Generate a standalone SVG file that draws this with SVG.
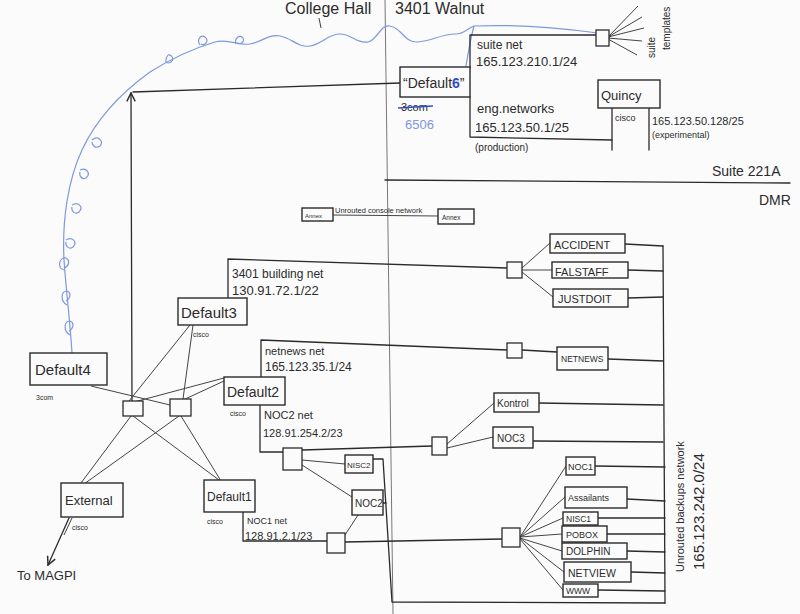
<svg xmlns="http://www.w3.org/2000/svg" width="800" height="614" viewBox="0 0 800 614">
<defs>
<style>
.ln{stroke:#2b2b2b;stroke-width:1.3;fill:none;stroke-linecap:round;stroke-linejoin:round}
.fl{stroke:#444;stroke-width:1;fill:none}
.bx{stroke:#2b2b2b;stroke-width:1.4;fill:#fbfbfb}
.sw{stroke:#2b2b2b;stroke-width:1.3;fill:#fbfbfb}
.t{font-family:"Liberation Sans","DejaVu Sans",sans-serif;fill:#2b2b2b}
.bl{stroke:#7d98dc;stroke-width:1.2;fill:none}
.div{stroke:#777;stroke-width:1;fill:none}
</style>
<marker id="ah" viewBox="0 0 10 10" refX="9" refY="5" markerWidth="8" markerHeight="8" orient="auto-start-reverse">
<path d="M1,1 L9,5 L1,9" fill="none" stroke="#2b2b2b" stroke-width="1.4"/>
</marker>
</defs>
<rect width="800" height="614" fill="#fbfbfb"/>

<g id="labels">
<text class="t" x="285" y="14" font-size="16">College Hall</text>
<line class="fl" x1="319" y1="18" x2="321" y2="28"/>
<text class="t" x="395" y="14" font-size="16">3401 Walnut</text>
<line class="div" x1="385" y1="0" x2="393" y2="614"/>
<line class="ln" x1="385" y1="180" x2="790" y2="183"/>
<text class="t" x="712" y="176" font-size="14">Suite 221A</text>
<text class="t" x="759" y="205" font-size="14">DMR</text>
<text class="t" x="0" y="0" font-size="10" transform="translate(655,58) rotate(-90)">suite</text>
<text class="t" x="0" y="0" font-size="10" transform="translate(670,50) rotate(-90)">templates</text>
<text class="t" x="0" y="0" font-size="11" transform="translate(684,572) rotate(-90)">Unrouted backups network</text>
<text class="t" x="0" y="0" font-size="15" transform="translate(704,570) rotate(-90)">165.123.242.0/24</text>
</g>

<g id="blue-cable">
<path class="bl" d="M72,353 C70,320 66,290 64,260 C62,220 68,180 82,150 C96,120 118,95 150,72 C172,58 195,48 215,42 C228,38 238,46 250,44 C262,42 268,34 280,36 C292,38 298,48 310,46 C322,44 328,34 340,34 C352,34 356,44 368,42 C378,40 380,24 390,26 C402,28 404,42 416,42 C430,42 440,34 456,34 C464,34 468,28 474,26 C520,24 560,28 598,33"/>
<path class="bl" d="M474,26 C470,40 468,55 466,66 C465,72 464,76 463,80"/>
<path class="bl" d="M70,335 c-7,-4 -6,-14 0,-14 c5,2 3,8 -1,10 M67,305 c-7,-4 -6,-14 0,-14 c5,2 3,8 -1,10 M64,270 c-7,-2 -5,-13 2,-12 c5,3 2,9 -2,10 M66,240 c6,-4 12,2 7,7 c-4,3 -8,-1 -7,-5 M72,205 c6,-4 12,2 7,7 c-4,3 -8,-1 -7,-5 M80,170 c7,-3 11,4 6,8 c-4,2 -7,-2 -6,-6 M92,140 c6,-5 12,1 8,6 c-4,3 -8,0 -8,-4 M168,55 c-4,6 -2,10 3,7 c4,-3 0,-8 -3,-7 M200,45 c-4,-6 2,-12 6,-7 c3,4 -2,8 -5,6 M236,44 c-2,-6 4,-10 7,-6 c2,4 -3,7 -6,5"/>
</g>

<g id="connectors">
<line class="ln" x1="133" y1="92" x2="400" y2="83"/>
<line class="ln" x1="132" y1="402" x2="131" y2="93" marker-end="url(#ah)"/>
<polyline class="ln" points="470,68 470,35 596,35"/>
<line class="fl" x1="608" y1="37" x2="638" y2="6"/>
<line class="fl" x1="608" y1="37" x2="642" y2="17"/>
<line class="fl" x1="608" y1="37" x2="644" y2="28"/>
<line class="fl" x1="608" y1="38" x2="642" y2="41"/>
<line class="fl" x1="608" y1="39" x2="637" y2="55"/>
<polyline class="ln" points="470,97 470,137 612,140"/>
<line class="ln" x1="612" y1="108" x2="612" y2="150"/>
<line class="ln" x1="649" y1="108" x2="649" y2="150"/>
<line class="fl" x1="333" y1="215" x2="438" y2="216"/>
<polyline class="ln" points="228,298 228,259 507,268"/>
<line class="fl" x1="522" y1="268" x2="550" y2="243"/>
<line class="fl" x1="522" y1="270" x2="552" y2="270"/>
<line class="fl" x1="522" y1="272" x2="553" y2="297"/>
<line class="ln" x1="625" y1="244" x2="663" y2="246"/>
<line class="ln" x1="628" y1="270" x2="663" y2="271"/>
<line class="ln" x1="628" y1="298" x2="663" y2="297"/>
<polyline class="ln" points="261,377 261,340 507,350"/>
<line class="ln" x1="522" y1="350" x2="557" y2="352"/>
<line class="ln" x1="608" y1="359" x2="663" y2="361"/>
<polyline class="ln" points="260,405 260,452 283,452"/>
<line class="ln" x1="302" y1="450" x2="432" y2="446"/>
<line class="fl" x1="447" y1="444" x2="494" y2="403"/>
<line class="fl" x1="447" y1="448" x2="493" y2="437"/>
<line class="ln" x1="539" y1="403" x2="663" y2="405"/>
<line class="ln" x1="533" y1="441" x2="663" y2="442"/>
<line class="fl" x1="302" y1="460" x2="345" y2="464"/>
<line class="fl" x1="302" y1="465" x2="352" y2="497"/>
<polyline class="ln" points="373,459 383,459 392,602 665,603"/>
<line class="ln" x1="383" y1="503" x2="386" y2="503"/>
<line class="fl" x1="358" y1="515" x2="345" y2="535"/>
<polyline class="ln" points="243,512 243,541 327,541"/>
<line class="ln" x1="345" y1="542" x2="502" y2="539"/>
<line class="fl" x1="520" y1="537" x2="566" y2="466"/>
<line class="fl" x1="520" y1="537" x2="565" y2="497"/>
<line class="fl" x1="520" y1="537" x2="563" y2="518"/>
<line class="fl" x1="520" y1="537" x2="562" y2="534"/>
<line class="fl" x1="520" y1="538" x2="562" y2="551"/>
<line class="fl" x1="520" y1="538" x2="564" y2="572"/>
<line class="fl" x1="520" y1="539" x2="563" y2="590"/>
<line class="ln" x1="595" y1="466" x2="665" y2="467"/>
<line class="ln" x1="627" y1="499" x2="665" y2="501"/>
<line class="ln" x1="598" y1="518" x2="665" y2="518"/>
<line class="ln" x1="607" y1="534" x2="665" y2="534"/>
<line class="ln" x1="627" y1="551" x2="665" y2="552"/>
<line class="ln" x1="631" y1="572" x2="665" y2="573"/>
<line class="ln" x1="598" y1="590" x2="665" y2="591"/>
<line class="ln" x1="663" y1="246" x2="665" y2="603"/>
<line class="fl" x1="91" y1="386" x2="170" y2="405"/>
<line class="fl" x1="224" y1="378" x2="134" y2="402"/>
<line class="fl" x1="224" y1="381" x2="183" y2="400"/>
<line class="fl" x1="190" y1="325" x2="129" y2="401"/>
<line class="fl" x1="193" y1="325" x2="183" y2="399"/>
<line class="fl" x1="131" y1="416" x2="81" y2="483"/>
<line class="fl" x1="133" y1="416" x2="219" y2="480"/>
<line class="fl" x1="179" y1="416" x2="84" y2="484"/>
<line class="fl" x1="181" y1="416" x2="221" y2="481"/>
<line class="ln" x1="69" y1="518" x2="48" y2="565" marker-end="url(#ah)"/>
<line class="fl" x1="72" y1="518" x2="64" y2="535"/>
</g>

<g id="switches">
<rect class="sw" x="596" y="30" width="13" height="16"/>
<rect class="sw" x="507" y="262" width="15" height="16"/>
<rect class="sw" x="507" y="343" width="15" height="15"/>
<rect class="sw" x="283" y="448" width="19" height="22"/>
<rect class="sw" x="432" y="437" width="15" height="18"/>
<rect class="sw" x="327" y="533" width="18" height="20"/>
<rect class="sw" x="502" y="528" width="18" height="19"/>
<rect class="sw" x="123" y="401" width="20" height="15"/>
<rect class="sw" x="170" y="399" width="21" height="17"/>
</g>

<g id="default5">
<rect class="bx" x="400" y="67" width="70" height="30"/>
<text class="t" x="403" y="88" font-size="14">“Default<tspan fill="#2d4fc8" font-weight="bold">6</tspan>”</text>
<text class="t" x="401" y="111" font-size="11">3com</text>
<line stroke="#2d4fc8" stroke-width="1.3" x1="398" y1="108" x2="433" y2="106"/>
<text class="t" x="405" y="129" font-size="13" style="fill:#7d98dc">6506</text>
</g>
<g id="suite-net">
<text class="t" x="477" y="49" font-size="12">suite net</text>
<text class="t" x="476" y="66" font-size="13">165.123.210.1/24</text>
</g>
<g id="eng-networks">
<text class="t" x="477" y="113" font-size="13">eng.networks</text>
<text class="t" x="475" y="132" font-size="13">165.123.50.1/25</text>
<text class="t" x="475" y="151" font-size="10">(production)</text>
</g>
<g id="quincy">
<rect class="bx" x="598" y="80" width="62" height="28"/>
<text class="t" x="601" y="100" font-size="13">Quincy</text>
<text class="t" x="615" y="121" font-size="9">cisco</text>
<text class="t" x="652" y="125" font-size="11">165.123.50.128/25</text>
<text class="t" x="652" y="138" font-size="9">(experimental)</text>
</g>
<g id="annex1">
<rect class="bx" x="302" y="208" width="31" height="13" stroke-width="1"/>
<text class="t" x="305" y="218" font-size="6">Annex</text>
</g>
<text class="t" x="335" y="213" font-size="7.5">Unrouted console network</text>
<g id="annex2">
<rect class="bx" x="438" y="209" width="36" height="15" stroke-width="1"/>
<text class="t" x="442" y="220" font-size="6.5">Annex</text>
</g>
<g id="building-net">
<text class="t" x="232" y="278" font-size="12">3401 building net</text>
<text class="t" x="232" y="295" font-size="13">130.91.72.1/22</text>
</g>
<g id="default3">
<rect class="bx" x="178" y="298" width="69" height="27"/>
<text class="t" x="181" y="318" font-size="15">Default3</text>
<text class="t" x="193" y="337" font-size="7">cisco</text>
</g>
<g id="accident"><rect class="bx" x="550" y="234" width="75" height="19"/><text class="t" x="554" y="249" font-size="11">ACCIDENT</text></g>
<g id="falstaff"><rect class="bx" x="552" y="262" width="76" height="16"/><text class="t" x="555" y="276" font-size="11">FALSTAFF</text></g>
<g id="justdoit"><rect class="bx" x="553" y="289" width="75" height="18"/><text class="t" x="558" y="303" font-size="11">JUSTDOIT</text></g>
<g id="netnews-net">
<text class="t" x="265" y="355" font-size="11">netnews net</text>
<text class="t" x="265" y="371" font-size="12">165.123.35.1/24</text>
</g>
<g id="netnews"><rect class="bx" x="557" y="347" width="51" height="23"/><text class="t" x="561" y="362" font-size="8.5">NETNEWS</text></g>
<g id="default2">
<rect class="bx" x="224" y="377" width="61" height="28"/>
<text class="t" x="227" y="397" font-size="14">Default2</text>
<text class="t" x="230" y="416" font-size="7">cisco</text>
</g>
<g id="noc2-net">
<text class="t" x="264" y="419" font-size="11">NOC2 net</text>
<text class="t" x="263" y="437" font-size="11">128.91.254.2/23</text>
</g>
<g id="kontrol"><rect class="bx" x="494" y="393" width="45" height="19"/><text class="t" x="497" y="407" font-size="10">Kontrol</text></g>
<g id="noc3"><rect class="bx" x="493" y="427" width="40" height="21"/><text class="t" x="497" y="442" font-size="10">NOC3</text></g>
<g id="nisc2"><rect class="bx" x="345" y="455" width="28" height="18"/><text class="t" x="347" y="468" font-size="8">NISC2</text></g>
<g id="noc2"><rect class="bx" x="352" y="490" width="31" height="25"/><text class="t" x="355" y="507" font-size="10">NOC2</text></g>
<g id="default4">
<rect class="bx" x="30" y="353" width="77" height="32"/>
<text class="t" x="35" y="375" font-size="15">Default4</text>
<text class="t" x="36" y="400" font-size="7">3com</text>
</g>
<g id="external">
<rect class="bx" x="61" y="483" width="62" height="34"/>
<text class="t" x="65" y="505" font-size="13">External</text>
<text class="t" x="72" y="530" font-size="7">cisco</text>
<text class="t" x="17" y="580" font-size="13">To MAGPI</text>
</g>
<g id="default1">
<rect class="bx" x="204" y="480" width="51" height="32"/>
<text class="t" x="207" y="501" font-size="12">Default1</text>
<text class="t" x="207" y="524" font-size="7">cisco</text>
</g>
<g id="noc1-net">
<text class="t" x="247" y="524" font-size="9">NOC1 net</text>
<text class="t" x="245" y="540" font-size="11">128.91.2.1/23</text>
</g>
<g id="noc1"><rect class="bx" x="566" y="457" width="29" height="18"/><text class="t" x="568" y="470" font-size="9">NOC1</text></g>
<g id="assailants"><rect class="bx" x="565" y="487" width="62" height="21"/><text class="t" x="568" y="501" font-size="9">Assailants</text></g>
<g id="nisc1"><rect class="bx" x="563" y="512" width="35" height="13"/><text class="t" x="566" y="522" font-size="8.5">NISC1</text></g>
<g id="pobox"><rect class="bx" x="562" y="526" width="45" height="16"/><text class="t" x="566" y="538" font-size="9">POBOX</text></g>
<g id="dolphin"><rect class="bx" x="562" y="543" width="65" height="16"/><text class="t" x="566" y="555" font-size="10">DOLPHIN</text></g>
<g id="netview"><rect class="bx" x="564" y="562" width="67" height="20"/><text class="t" x="568" y="577" font-size="10.5">NETVIEW</text></g>
<g id="www"><rect class="bx" x="563" y="584" width="35" height="13"/><text class="t" x="566" y="594" font-size="8.5">WWW</text></g>
</svg>
